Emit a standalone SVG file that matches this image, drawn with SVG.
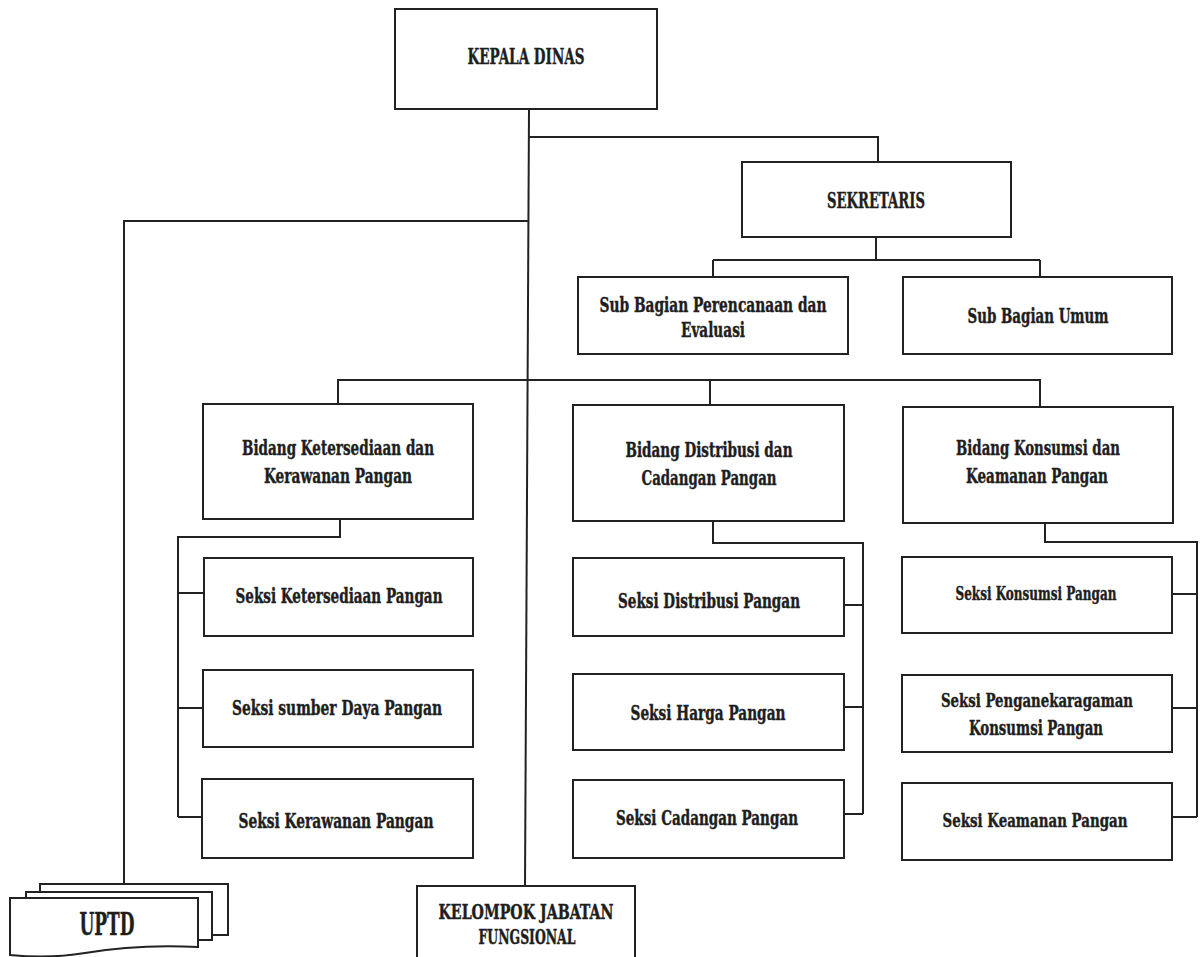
<svg xmlns="http://www.w3.org/2000/svg" width="1200" height="957" viewBox="0 0 1200 957">
<style>
.box{fill:#fff;stroke:#222;stroke-width:2}
.ln{fill:none;stroke:#222;stroke-width:2}
.t{font-family:"DejaVu Serif Condensed","DejaVu Serif",serif;font-weight:bold;font-size:21px;text-anchor:middle;fill:#1e1e1e;stroke:#1e1e1e;stroke-width:0.4;font-stretch:condensed}
.big{font-size:23px}
.huge{font-size:31px}
.sm{font-size:19px}
.xs{font-size:19px}
</style>
<rect width="1200" height="957" fill="#fff"/>
<g id="connectors" class="ln">
<path d="M529,109 L525,886"/>
<path d="M529,137 H878 V162"/>
<path d="M528,221 H124 V884"/>
<path d="M876,237 V260 M713,260 H1040 M713,260 V277 M1040,260 V277"/>
<path d="M338,404 V380 H1040 V407 M710,380 V405"/>
<path d="M340,519 V537 H178 V817 M178,593 H204 M178,708 H203 M178,817 H202"/>
<path d="M713,521 V543 H863 V814 M844,605 H863 M844,707 H863 M844,814 H863"/>
<path d="M1045,523 V542 H1197 V817 M1172,594 H1197 M1172,708 H1197 M1172,817 H1197"/>
</g>
<g id="kepala-dinas"><rect class="box" x="395" y="9" width="262" height="100"/><text class="t big" x="526" y="64" textLength="117" lengthAdjust="spacingAndGlyphs">KEPALA DINAS</text></g>
<g id="sekretaris"><rect class="box" x="742" y="162" width="269" height="75"/><text class="t big" x="876" y="208" textLength="98" lengthAdjust="spacingAndGlyphs">SEKRETARIS</text></g>
<g id="sub-perencanaan"><rect class="box" x="578" y="277" width="270" height="77"/><text class="t" x="713" y="312" textLength="227" lengthAdjust="spacingAndGlyphs">Sub Bagian Perencanaan dan</text><text class="t" x="713" y="337" textLength="64" lengthAdjust="spacingAndGlyphs">Evaluasi</text></g>
<g id="sub-umum"><rect class="box" x="903" y="277" width="269" height="77"/><text class="t" x="1038" y="323" textLength="141" lengthAdjust="spacingAndGlyphs">Sub Bagian Umum</text></g>
<g id="bidang-ketersediaan"><rect class="box" x="203" y="404" width="270" height="115"/><text class="t" x="338" y="455" textLength="192" lengthAdjust="spacingAndGlyphs">Bidang Ketersediaan dan</text><text class="t" x="338" y="483" textLength="148" lengthAdjust="spacingAndGlyphs">Kerawanan Pangan</text></g>
<g id="bidang-distribusi"><rect class="box" x="573" y="405" width="271" height="116"/><text class="t" x="709" y="457" textLength="167" lengthAdjust="spacingAndGlyphs">Bidang Distribusi dan</text><text class="t" x="709" y="485" textLength="135" lengthAdjust="spacingAndGlyphs">Cadangan Pangan</text></g>
<g id="bidang-konsumsi"><rect class="box" x="903" y="407" width="270" height="116"/><text class="t" x="1038" y="455" textLength="164" lengthAdjust="spacingAndGlyphs">Bidang Konsumsi dan</text><text class="t" x="1037" y="483" textLength="142" lengthAdjust="spacingAndGlyphs">Keamanan Pangan</text></g>
<g id="seksi-ketersediaan"><rect class="box" x="204" y="558" width="269" height="78"/><text class="t" x="339" y="603" textLength="207" lengthAdjust="spacingAndGlyphs">Seksi Ketersediaan Pangan</text></g>
<g id="seksi-sumber-daya"><rect class="box" x="203" y="670" width="270" height="77"/><text class="t" x="337" y="715" textLength="210" lengthAdjust="spacingAndGlyphs">Seksi sumber Daya Pangan</text></g>
<g id="seksi-kerawanan"><rect class="box" x="202" y="779" width="271" height="79"/><text class="t" x="336" y="828" textLength="195" lengthAdjust="spacingAndGlyphs">Seksi Kerawanan Pangan</text></g>
<g id="seksi-distribusi"><rect class="box" x="573" y="558" width="271" height="78"/><text class="t" x="709" y="608" textLength="182" lengthAdjust="spacingAndGlyphs">Seksi Distribusi Pangan</text></g>
<g id="seksi-harga"><rect class="box" x="573" y="674" width="271" height="76"/><text class="t" x="708" y="720" textLength="155" lengthAdjust="spacingAndGlyphs">Seksi Harga Pangan</text></g>
<g id="seksi-cadangan"><rect class="box" x="573" y="780" width="271" height="78"/><text class="t" x="707" y="825" textLength="182" lengthAdjust="spacingAndGlyphs">Seksi Cadangan Pangan</text></g>
<g id="seksi-konsumsi"><rect class="box" x="902" y="557" width="270" height="76"/><text class="t sm" x="1036" y="600" textLength="161" lengthAdjust="spacingAndGlyphs">Seksi Konsumsi Pangan</text></g>
<g id="seksi-penganekaragaman"><rect class="box" x="902" y="675" width="270" height="77"/><text class="t xs" x="1037" y="707" textLength="192" lengthAdjust="spacingAndGlyphs">Seksi Penganekaragaman</text><text class="t" x="1036" y="735" textLength="134" lengthAdjust="spacingAndGlyphs">Konsumsi Pangan</text></g>
<g id="seksi-keamanan"><rect class="box" x="902" y="783" width="270" height="77"/><text class="t xs" x="1035" y="827" textLength="185" lengthAdjust="spacingAndGlyphs">Seksi Keamanan Pangan</text></g>
<g id="kelompok-jabatan"><rect class="box" x="417" y="886" width="218" height="90"/><text class="t" x="526" y="919" textLength="175" lengthAdjust="spacingAndGlyphs">KELOMPOK JABATAN</text><text class="t" x="527" y="944" textLength="97" lengthAdjust="spacingAndGlyphs">FUNGSIONAL</text></g>
<g id="uptd">
<rect class="box" x="40" y="884" width="188" height="51"/>
<rect class="box" x="26" y="892" width="186" height="48"/>
<path class="box" d="M10,898 H198 V947 C160,945 120,947 85,953 C55,958 30,957 10,955 Z"/>
<text class="t huge" x="107" y="935" textLength="55" lengthAdjust="spacingAndGlyphs">UPTD</text>
</g>
</svg>
